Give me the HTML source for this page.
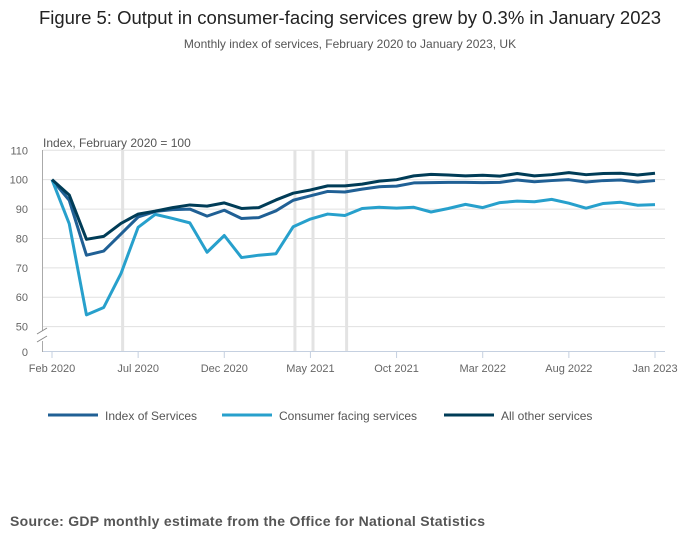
<!DOCTYPE html>
<html><head><meta charset="utf-8"><style>
body{margin:0;background:#fff;font-family:"Liberation Sans",sans-serif;}
#wrap{position:relative;width:700px;height:549px;overflow:hidden;}
</style></head><body>
<div id="wrap">
<svg id="chart" width="700" height="549">
<text x="350" y="24" text-anchor="middle" font-size="18.5" fill="#222">Figure 5: Output in consumer-facing services grew by 0.3% in January 2023</text>
<text x="350" y="48" text-anchor="middle" font-size="12" fill="#555">Monthly index of services, February 2020 to January 2023, UK</text>
<text x="43" y="147" font-size="12" fill="#555">Index, February 2020 = 100</text>
<g id="grid"></g><g id="bands"></g><g id="axes"></g><g id="lines"></g><g id="legend"></g>
<text x="10" y="526" font-size="14" font-weight="bold" fill="#555" textLength="475">Source: GDP monthly estimate from the Office for National Statistics</text>
</svg>
</div>
<script>
const months = 36;
const yTicks = [50,60,70,80,90,100,110];
const xTickIdx = [0,5,10,15,20,25,30,35];
const xTickLabels = ["Feb 2020","Jul 2020","Dec 2020","May 2021","Oct 2021","Mar 2022","Aug 2022","Jan 2023"];
const bandIdx = [4.1, 14.1, 15.15, 17.1];
const seriesNames = ["Index of Services","Consumer facing services","All other services"];
const ios = [100,93,74.3,75.7,81.5,87.3,89.2,89.8,90,87.6,89.6,86.8,87.1,89.4,93,94.5,96,95.8,96.8,97.6,97.8,98.9,99.0,99.1,99.1,99.0,99.1,99.9,99.3,99.7,100.0,99.2,99.7,99.9,99.2,99.7];
const cfs = [100,85,54,56.5,68,83.8,88.2,86.8,85.3,75.3,81,73.5,74.3,74.8,84,86.6,88.3,87.8,90.2,90.6,90.3,90.6,89.0,90.2,91.6,90.5,92.2,92.7,92.5,93.3,92.0,90.3,91.9,92.3,91.3,91.5];
const other = [100,94.8,79.7,80.7,85.1,88.3,89.3,90.5,91.4,91.0,92.1,90.2,90.5,93.1,95.4,96.5,97.9,97.9,98.5,99.5,100.0,101.3,101.8,101.6,101.3,101.5,101.2,102.1,101.3,101.7,102.4,101.7,102.1,102.2,101.6,102.2];
const colors = ["#206095","#27a0cc","#003c57"];
const NS="http://www.w3.org/2000/svg";
const x = i => 52 + i*(655-52)/35;
const y = v => 326.6 - (v-50)*(326.6-150.3)/60;
function mk(tag, attrs, parent){const e=document.createElementNS(NS,tag);for(const k in attrs)e.setAttribute(k,attrs[k]);document.getElementById(parent).appendChild(e);return e;}
yTicks.forEach(t=>{
 const l=mk("line",{x1:43,x2:665,y1:y(t),y2:y(t),stroke:"#e0e0e0","stroke-width":1},"grid");
 
 
 const tx=mk("text",{x:28,y:y(t)+4,"text-anchor":"end","font-size":11,fill:"#666"},"grid");
 tx.textContent=t;
 
 
});
const zl=mk("text",{x:28,y:356,"text-anchor":"end","font-size":11,fill:"#666"},"grid");zl.textContent="0";


const zg=mk("line",{x1:43,x2:665,y1:351.5,y2:351.5,stroke:"#c5d0e0"},"axes");


const ya=mk("path",{d:"M42.5 150 V331 M42.5 341 V352",stroke:"#aaa",fill:"none"},"axes");


const br=mk("path",{d:"M37 334 l10 -6 M37 342 l10 -6",stroke:"#888",fill:"none"},"axes");


bandIdx.forEach(b=>{
 const r=mk("rect",{x:x(b)-1.5,y:150,width:3,height:202,fill:"#e3e3e3"},"bands");
 
 
});
xTickIdx.forEach((i,k)=>{
 const l=mk("line",{x1:x(i),x2:x(i),y1:352,y2:358,stroke:"#c5d0e0"},"axes");
 
 
 const t=mk("text",{x:x(i),y:372,"text-anchor":"middle","font-size":11,fill:"#666"},"axes");
 t.textContent=xTickLabels[k];
 
 
});
[ios,cfs,other].forEach((s,k)=>{
 const p=mk("polyline",{points:s.map((v,i)=>x(i)+","+y(v)).join(" "),fill:"none",stroke:colors[k],"stroke-width":3,"stroke-linejoin":"round"},"lines");
 
 
});
const lx=[48,222,444];
seriesNames.forEach((n,k)=>{
 const l=mk("line",{x1:lx[k],x2:lx[k]+50,y1:415,y2:415,stroke:colors[k],"stroke-width":3},"legend");
 
 
 const t=mk("text",{x:lx[k]+57,y:420,"font-size":12,fill:"#555"},"legend");
 t.textContent=n;
 
 
});
</script>
</body></html>
